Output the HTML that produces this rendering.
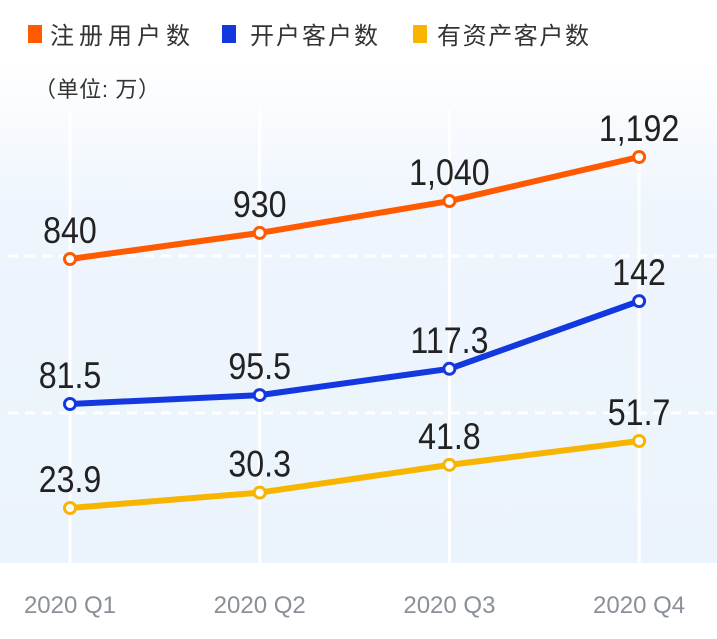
<!DOCTYPE html>
<html><head><meta charset="utf-8"><style>
html,body{margin:0;padding:0;background:#fff;}
body{width:717px;height:634px;overflow:hidden;font-family:"Liberation Sans","Noto Sans CJK SC",sans-serif;}
</style></head><body>
<svg width="717" height="634" viewBox="0 0 717 634">
<defs>
<linearGradient id="bg" x1="0" y1="0" x2="0" y2="1">
<stop offset="0" stop-color="#ffffff"/><stop offset="0.3" stop-color="#eef5fd"/><stop offset="1" stop-color="#ebf3fc"/>
</linearGradient>
</defs>
<rect x="0" y="60" width="717" height="503" fill="url(#bg)"/>
<g id="grid"></g>
<g id="legend" font-size="24" fill="#333">
<g><rect x="28" y="25" width="14" height="18" fill="#ff5a00"/><text x="50" y="44" textLength="140">注册用户数</text></g>
<g><rect x="222" y="25" width="14" height="18" fill="#1438e0"/><text x="250" y="44" textLength="128">开户客户数</text></g>
<g><rect x="413" y="25" width="14" height="18" fill="#f8b500"/><text x="437" y="44" textLength="152">有资产客户数</text></g>
</g>
<text x="34" y="97" font-size="22" fill="#333" textLength="126">（单位: 万）</text>
<g id="series"></g>
<g id="xaxis" font-size="24" fill="#8a9099" text-anchor="middle"></g>
</svg>
<script>
const categories=["2020 Q1","2020 Q2","2020 Q3","2020 Q4"];
const registered=[840,930,1040,1192];
const registeredLabels=["840","930","1,040","1,192"];
const opened=[81.5,95.5,117.3,142];
const openedLabels=["81.5","95.5","117.3","142"];
const assets=[23.9,30.3,41.8,51.7];
const assetsLabels=["23.9","30.3","41.8","51.7"];
const NS="http://www.w3.org/2000/svg";
function x(i){return 70+i*189.7;}
function yReg(v){return 259-(v-840)*(102/352);}
function yOpen(v){return 404-0.812*(Math.exp(0.035*v)-Math.exp(0.035*81.5));}
function yAsset(v){return 508-(v-23.9)*(67/27.8);}
const grid=document.getElementById('grid');
categories.forEach((c,i)=>{
  const l=document.createElementNS(NS,'line');
  l.setAttribute('x1',x(i));l.setAttribute('x2',x(i));l.setAttribute('y1',110);l.setAttribute('y2',563);
  l.setAttribute('stroke','#fff');l.setAttribute('stroke-width','3');
  
  
  grid.appendChild(l);
  const t=document.createElementNS(NS,'text');
  t.setAttribute('x',x(i));t.setAttribute('y',613);t.textContent=c;
  
  
  document.getElementById('xaxis').appendChild(t);
});
[256,413].forEach(yy=>{
  const l=document.createElementNS(NS,'line');
  l.setAttribute('x1',8);l.setAttribute('x2',717);l.setAttribute('y1',yy);l.setAttribute('y2',yy);
  l.setAttribute('stroke','#fff');l.setAttribute('stroke-width','3');l.setAttribute('stroke-dasharray','10 7');
  
  
  grid.appendChild(l);
});
const sg=document.getElementById('series');
function drawSeries(vals,labels,yf,color,name){
  const g=document.createElementNS(NS,'g');
  
  
  const p=document.createElementNS(NS,'polyline');
  p.setAttribute('points',vals.map((v,i)=>x(i)+','+yf(v)).join(' '));
  p.setAttribute('fill','none');p.setAttribute('stroke',color);p.setAttribute('stroke-width','6');p.setAttribute('stroke-linejoin','round');
  
  
  g.appendChild(p);
  vals.forEach((v,i)=>{
    const c=document.createElementNS(NS,'circle');
    c.setAttribute('cx',x(i));c.setAttribute('cy',yf(v));c.setAttribute('r',5.5);
    c.setAttribute('fill','#fff');c.setAttribute('stroke',color);c.setAttribute('stroke-width','3');
    
    
    g.appendChild(c);
    const t=document.createElementNS(NS,'text');
    t.setAttribute('x',x(i));t.setAttribute('y',yf(v)-16);t.setAttribute('text-anchor','middle');
    t.setAttribute('font-size','37');t.setAttribute('fill','#222');
    t.setAttribute('transform','translate('+x(i)+',0) scale(0.87,1) translate('+(-x(i))+',0)');
    t.textContent=labels[i];
    
    
    g.appendChild(t);
  });
  sg.appendChild(g);
}
drawSeries(registered,registeredLabels,yReg,'#ff5a00','registered-users-series');
drawSeries(opened,openedLabels,yOpen,'#1438e0','opened-accounts-series');
drawSeries(assets,assetsLabels,yAsset,'#f8b500','asset-accounts-series');
</script>
</body></html>
